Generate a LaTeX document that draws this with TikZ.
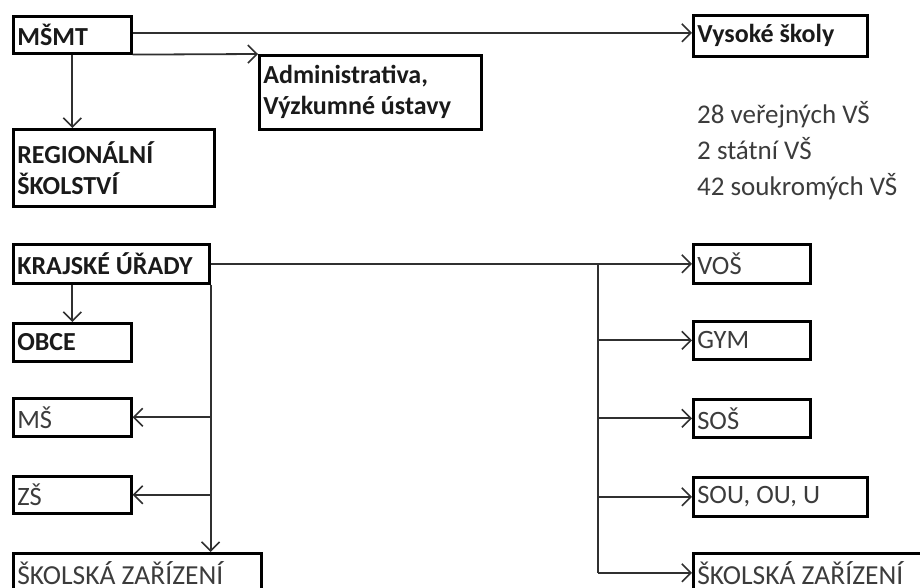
\documentclass[tikz,border=0pt]{standalone}
\usepackage{fontspec}
\setmainfont{Carlito}
\usetikzlibrary{arrows.meta}
\definecolor{txtdark}{HTML}{1A1A1A}
\definecolor{txtgray}{HTML}{3C3C3C}
\definecolor{linec}{HTML}{303030}
\tikzset{
  bx/.style={draw=black, line width=2.6pt, anchor=north west, inner xsep=4pt, inner ysep=0pt,
    align=flush left, font=\fontsize{26.5}{31}\selectfont, text=txtgray},
  bold/.style={font=\fontsize{26}{31}\selectfont\bfseries, text=txtdark},
  conn/.style={draw=linec, line width=1.8pt},
  arr/.style={conn, -{Straight Barb[length=9pt,width=18pt,line width=1.6pt]}},
}
\begin{document}
\begin{tikzpicture}[x=1pt,y=-1pt]
\useasboundingbox (0,0) rectangle (920,588);
\clip (0,0) rectangle (920,588);
\fill[white] (0,0) rectangle (920,588);
% top part
\node[bx,bold,text width=110pt,minimum height=37pt] (msmt) at (12,15) {MŠMT};
\node[bx,bold,text width=166pt,minimum height=41pt] (vs) at (692,14) {Vysoké školy};
\node[bx,bold,text width=214pt,minimum height=74pt] (adm) at (258,54) {Administrativa,\\Výzkumné ústavy};
\node[bx,bold,text width=193pt,minimum height=77pt] (reg) at (12,128) {REGIONÁLNÍ\\ŠKOLSTVÍ};
\node[anchor=west, align=left, inner sep=0pt, font=\fontsize{27}{36}\selectfont, text=txtgray] (stat) at (697,151)
  {28 veřejných VŠ\\2 státní VŠ\\42 soukromých VŠ};
% lower part
\node[bx,bold,text width=188pt,minimum height=39pt] (kr) at (12,243) {KRAJSKÉ ÚŘADY};
\node[bx,bold,text width=110pt,minimum height=38pt] (obce) at (12,322) {OBCE};
\node[bx,text width=110pt,minimum height=38pt] (ms) at (12,397) {MŠ};
\node[bx,text width=110pt,minimum height=37pt] (zs) at (12,475) {ZŠ};
\node[bx,text width=240pt,minimum height=39pt,font=\fontsize{27.5}{32}\selectfont] (sz1) at (12,552) {ŠKOLSKÁ ZAŘÍZENÍ};
\node[bx,text width=109pt,minimum height=39pt] (vos) at (692,243) {VOŠ};
\node[bx,text width=109pt,minimum height=38pt] (gym) at (692,320) {GYM};
\node[bx,text width=109pt,minimum height=38pt] (sos) at (692,398) {SOŠ};
\node[bx,text width=166pt,minimum height=39pt] (sou) at (692,476) {SOU, OU, U};
\node[bx,text width=232pt,minimum height=39pt,font=\fontsize{27.5}{32}\selectfont] (sz2) at (692,552) {ŠKOLSKÁ ZAŘÍZENÍ};
% connectors top
\draw[arr] ([yshift=2pt]msmt.east) -- ([yshift=2pt]msmt.east -| vs.west);
\draw[arr] (msmt.south east) -- (adm.north west);
\draw[arr] (msmt.south) -- (msmt.south |- reg.north);
% connectors bottom
\draw[arr] (kr.east) -- (vos.west);
\draw[arr] (obce.north |- kr.south) -- (obce.north);
\draw[arr] (kr.south east) -- (kr.south east |- sz1.north);
\draw[arr] (ms.east -| kr.south east) -- (ms.east);
\draw[arr] (zs.east -| kr.south east) -- (zs.east);
\coordinate (rb) at (598,263);
\draw[conn] (rb) -- (rb |- sz2.west);
\draw[arr] (rb |- gym.west) -- (gym.west);
\draw[arr] (rb |- sos.west) -- (sos.west);
\draw[arr] (rb |- sou.west) -- (sou.west);
\draw[arr] (rb |- sz2.west) -- (sz2.west);
\end{tikzpicture}
\end{document}
